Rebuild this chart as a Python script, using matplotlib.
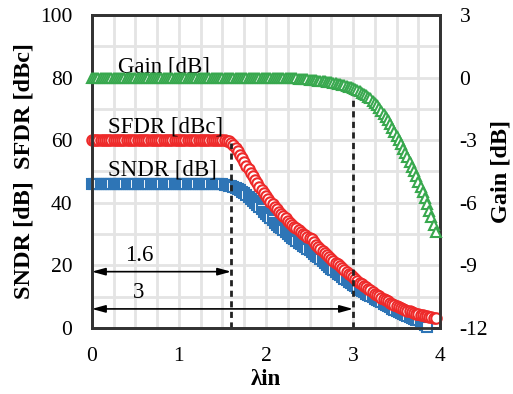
import numpy as np
import matplotlib
matplotlib.use("Agg")
import matplotlib.pyplot as plt
from matplotlib.ticker import MultipleLocator

plt.rcParams["font.family"] = ["Liberation Serif", "DejaVu Serif"]
plt.rcParams["axes.unicode_minus"] = False

# sweep of lambda_in, 0 .. 3.95 in steps of 0.025
lam = np.arange(159) * 0.025

sfdr = [60.0] * 61 + [
    59.9, 59.8, 59.6, 59.2, 58.5, 57.6, 56.5, 55.3, 54.2, 53.0,
    51.9, 50.7, 49.5, 48.4, 47.3, 46.2, 45.1, 44.1, 43.0, 42.1,
    41.2, 40.3, 39.5, 38.7, 37.9, 37.1, 36.4, 35.7, 35.0, 34.3,
    33.7, 33.0, 32.4, 31.8, 31.2, 30.6, 30.1, 29.6, 29.2, 28.8,
    28.4, 27.4, 26.6, 25.9, 25.3, 24.6, 24.0, 23.3, 22.7, 22.1,
    21.5, 20.9, 20.3, 19.7, 19.1, 18.5, 17.9, 17.3, 16.8, 16.2,
    15.6, 15.1, 14.5, 14.0, 13.5, 13.0, 12.5, 12.0, 11.5, 11.0,
    10.5, 10.1, 9.7, 9.3, 8.9, 8.5, 8.1, 7.7, 7.3, 7.0,
    6.7, 6.4, 6.1, 5.8, 5.5, 5.3, 5.0, 4.8, 4.6, 4.4,
    4.2, 4.0, 3.8, 3.7, 3.5, 3.4, 3.3, 3.2]

sndr = [46.0] * 60 + [
    45.9, 45.8, 45.7, 45.5, 45.3, 45.0, 44.7, 44.4, 44.0, 43.5,
    43.0, 42.5, 41.9, 41.3, 40.6, 40.0, 39.3, 38.6, 37.9, 37.2,
    36.5, 35.8, 35.1, 34.4, 33.7, 33.0, 32.4, 31.8, 31.2, 30.6,
    30.0, 29.4, 28.8, 28.3, 27.8, 27.3, 26.8, 26.3, 25.8, 25.3,
    24.8, 24.2, 23.7, 23.1, 22.6, 22.0, 21.4, 20.8, 20.2, 19.6,
    19.0, 18.4, 17.8, 17.3, 16.8, 16.3, 15.8, 15.3, 14.8, 14.3,
    13.8, 13.3, 12.8, 12.3, 11.8, 11.4, 11.0, 10.6, 10.2, 9.8,
    9.4, 9.0, 8.6, 8.2, 7.8, 7.4, 7.0, 6.6, 6.2, 5.8,
    5.4, 5.1, 4.8, 4.5, 4.2, 3.9, 3.6, 3.3, 3.0, 2.7,
    2.4, 2.0, 1.6, 1.1, 0.4] + [np.nan] * 4

gain = [0.0] * 88 + [
    0.00, -0.01, -0.01, -0.02, -0.03, -0.04, -0.04, -0.05, -0.06, -0.07,
    -0.08, -0.09, -0.10, -0.11, -0.12, -0.13, -0.14, -0.15, -0.16, -0.18,
    -0.19, -0.21, -0.23, -0.25, -0.27, -0.29, -0.32, -0.34, -0.37, -0.40,
    -0.43, -0.46, -0.50, -0.55, -0.60, -0.66, -0.72, -0.78, -0.85, -0.92,
    -1.00, -1.10, -1.21, -1.33, -1.45, -1.59, -1.73, -1.89, -2.05, -2.23,
    -2.42, -2.61, -2.80, -3.00, -3.20, -3.40, -3.60, -3.82, -4.05, -4.27,
    -4.50, -4.74, -4.98, -5.24, -5.50, -5.79, -6.08, -6.38, -6.70, -7.05,
    -7.40]

cut_lam = [1.6, 3.0]
cut_top = [59.2, 75.0]
cut_labels = ["1.6", "3"]
arrow_y = [18.0, 6.1]

fig = plt.figure(figsize=(5.13, 3.94), dpi=100)
ax = fig.add_axes([0.179, 0.1675, 0.679, 0.7945])
ax2 = ax.twinx()

ax.set_xlim(0, 4)
ax.set_ylim(0, 100)
ax2.set_ylim(-12, 3)

ax.xaxis.set_major_locator(MultipleLocator(1))
ax.xaxis.set_minor_locator(MultipleLocator(0.25))
ax.yaxis.set_major_locator(MultipleLocator(20))
ax.yaxis.set_minor_locator(MultipleLocator(10))
ax2.yaxis.set_major_locator(MultipleLocator(3))
ax.grid(True, which="both", color="#e4e4e4", lw=2.0, zorder=0)
ax.set_axisbelow(True)

for a in (ax, ax2):
    a.tick_params(which="both", length=0, labelsize=15.5, pad=14)
    for s in a.spines.values():
        s.set_color("#333333")
        s.set_linewidth(2.0)

ms = dict(ms=7.5, mew=1.5, mfc="white", lw=0, clip_on=False)
ax.plot(lam, sndr, "s", mec="#2e75b6", zorder=3, **ms)
ax.plot(lam, sfdr, "o", mec="#ee2a2a", zorder=4, **ms)
ax2.plot(lam, gain, "^", mec="#38a84e", zorder=3, **ms)
ax2.set_zorder(ax.get_zorder() + 1)
ax2.patch.set_visible(False)

for xv, top, lbl, ay in zip(cut_lam, cut_top, cut_labels, arrow_y):
    ax.plot([xv, xv], [0, top], color="#222222", lw=2.0, ls=(0, (2.2, 1.6)), zorder=5)
    ax.annotate("", xy=(xv, ay), xytext=(0.0, ay),
                arrowprops=dict(arrowstyle="<|-|>,head_length=0.8,head_width=0.22",
                                color="black", lw=1.2, shrinkA=0, shrinkB=0), zorder=6)
    ax.text(0.54, ay + 1.8, lbl, fontsize=16.5, ha="center", va="bottom", zorder=6)

ax.text(0.30, 81.5, "Gain [dB]", fontsize=16.5, ha="left", va="baseline", zorder=6)
ax.text(0.18, 62.3, "SFDR [dBc]", fontsize=16.5, ha="left", va="baseline", zorder=6)
ax.text(0.18, 48.6, "SNDR [dB]", fontsize=16.5, ha="left", va="baseline", zorder=6)

ax.set_xlabel("λin", fontsize=16.5, fontweight="bold", labelpad=2)
ax.set_ylabel("SNDR [dB]  SFDR [dBc]", fontsize=17.5, fontweight="bold", labelpad=4)
ax2.set_ylabel("Gain [dB]", fontsize=17.5, fontweight="bold", labelpad=2)

fig.savefig("out.png", dpi=100)
